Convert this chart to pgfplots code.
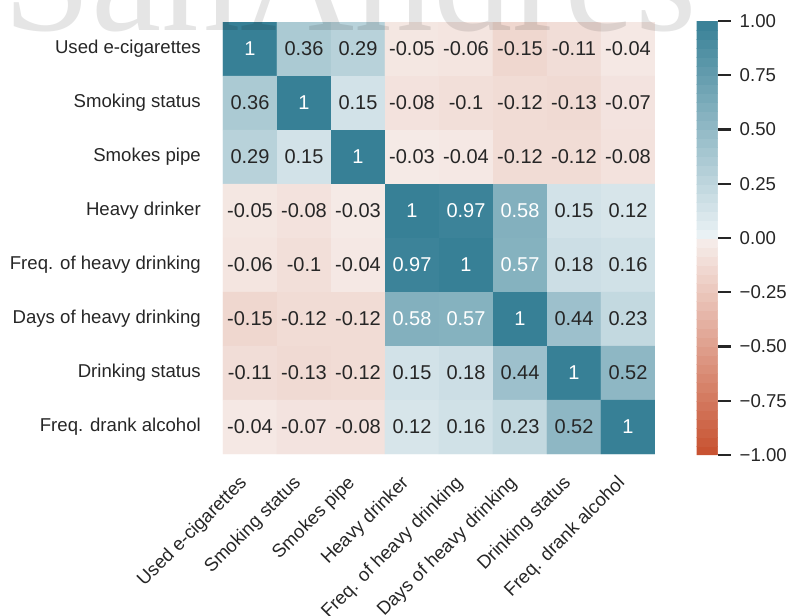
\documentclass[border=0pt]{standalone}
\usepackage{pgfplots}
\pgfplotsset{compat=1.18}
\usepackage{pgfplotstable}
\usepackage{fontspec}
\setmainfont{Liberation Sans}
\newfontfamily\wmfont{Liberation Serif}
\definecolor{txt}{HTML}{262626}

\pgfplotstableread{
x y c
0 0 1
1 0 0.36
2 0 0.29
3 0 -0.05
4 0 -0.06
5 0 -0.15
6 0 -0.11
7 0 -0.04
0 1 0.36
1 1 1
2 1 0.15
3 1 -0.08
4 1 -0.10
5 1 -0.12
6 1 -0.13
7 1 -0.07
0 2 0.29
1 2 0.15
2 2 1
3 2 -0.03
4 2 -0.04
5 2 -0.12
6 2 -0.12
7 2 -0.08
0 3 -0.05
1 3 -0.08
2 3 -0.03
3 3 1
4 3 0.97
5 3 0.58
6 3 0.15
7 3 0.12
0 4 -0.06
1 4 -0.10
2 4 -0.04
3 4 0.97
4 4 1
5 4 0.57
6 4 0.18
7 4 0.16
0 5 -0.15
1 5 -0.12
2 5 -0.12
3 5 0.58
4 5 0.57
5 5 1
6 5 0.44
7 5 0.23
0 6 -0.11
1 6 -0.13
2 6 -0.12
3 6 0.15
4 6 0.18
5 6 0.44
6 6 1
7 6 0.52
0 7 -0.04
1 7 -0.07
2 7 -0.08
3 7 0.12
4 7 0.16
5 7 0.23
6 7 0.52
7 7 1
}\corr

\pgfplotstableread{
x y label
1 0 0.36
2 0 0.29
3 0 -0.05
4 0 -0.06
5 0 -0.15
6 0 -0.11
7 0 -0.04
0 1 0.36
2 1 0.15
3 1 -0.08
4 1 -0.1
5 1 -0.12
6 1 -0.13
7 1 -0.07
0 2 0.29
1 2 0.15
3 2 -0.03
4 2 -0.04
5 2 -0.12
6 2 -0.12
7 2 -0.08
0 3 -0.05
1 3 -0.08
2 3 -0.03
6 3 0.15
7 3 0.12
0 4 -0.06
1 4 -0.1
2 4 -0.04
6 4 0.18
7 4 0.16
0 5 -0.15
1 5 -0.12
2 5 -0.12
6 5 0.44
7 5 0.23
0 6 -0.11
1 6 -0.13
2 6 -0.12
3 6 0.15
4 6 0.18
5 6 0.44
7 6 0.52
0 7 -0.04
1 7 -0.07
2 7 -0.08
3 7 0.12
4 7 0.16
5 7 0.23
6 7 0.52
}\darklab

\pgfplotstableread{
x y label
0 0 1
1 1 1
2 2 1
3 3 1
4 4 1
5 5 1
6 6 1
7 7 1
4 3 0.97
5 3 0.58
3 4 0.97
5 4 0.57
3 5 0.58
4 5 0.57
}\whitelab

\begin{document}
\begin{tikzpicture}
\useasboundingbox (0pt,0pt) rectangle (788pt,616pt);
\begin{axis}[
  at={(223pt,162pt)}, anchor=south west,
  scale only axis, width=432pt, height=432pt,
  xmin=-0.5, xmax=7.5, ymin=-0.5, ymax=7.5, y dir=reverse,
  enlargelimits=false,
  axis line style={draw=none}, major tick length=0pt,
  xtick={0,...,7}, ytick={0,...,7},
  xticklabels={Used e-cigarettes, Smoking status, Smokes pipe, Heavy drinker, Freq. of heavy drinking, Days of heavy drinking, Drinking status, Freq. drank alcohol},
  yticklabels={Used e-cigarettes, Smoking status, Smokes pipe, Heavy drinker, Freq. of heavy drinking, Days of heavy drinking, Drinking status, Freq. drank alcohol},
  tick label style={font=\fontsize{18.6}{22}\selectfont, text=txt},
  yticklabel style={anchor=east, inner sep=0pt, xshift=-22pt},
  xticklabel style={inner sep=0pt, xshift=-12pt, yshift=-20pt, rotate=45, anchor=north east},
  colormap={sns}{rgb255(0pt)=(199,80,46); rgb255(99pt)=(246,237,234); rgb255(100pt)=(242,242,242); rgb255(101pt)=(235,242,245); rgb255(200pt)=(55,128,150)},
  point meta min=-1, point meta max=1,
  colorbar sampled,
  colorbar style={
    samples=49,
    at={(parent axis.north east)}, anchor=north west, xshift=33pt,
    scale only axis, width=21pt, height=434pt, yshift=1pt,
    enlargelimits=false,
    axis line style={draw=none},
    ytick={-1,-0.75,-0.5,-0.25,0,0.25,0.5,0.75,1},
    yticklabels={−1.00,−0.75,−0.50,−0.25,0.00,0.25,0.50,0.75,1.00},
    yticklabel style={font=\fontsize{18.6}{22}\selectfont, text=txt, inner sep=0pt, xshift=9pt},
    ytick pos=right, yticklabel pos=right,
    ytick align=outside, major tick length=13pt,
    ytick style={draw=txt, line width=2.2pt},
  },
]
\addplot[matrix plot*, mesh/cols=8, point meta=explicit] table[x=x, y=y, meta=c] {\corr};
\addplot[only marks, mark=none, point meta=explicit symbolic, nodes near coords, nodes near coords align=center,
  every node near coord/.style={font=\fontsize{20}{24}\selectfont, text=txt, anchor=center}]
  table[x=x, y=y, meta=label] {\darklab};
\addplot[only marks, mark=none, point meta=explicit symbolic, nodes near coords, nodes near coords align=center,
  every node near coord/.style={font=\fontsize{20}{24}\selectfont, text=white, anchor=center}]
  table[x=x, y=y, meta=label] {\whitelab};
\end{axis}
\node[anchor=base west, inner sep=0pt, text=black, text opacity=0.1, font=\wmfont\fontsize{158}{160}\selectfont] at (3pt,585pt) {SanAndres};
\end{tikzpicture}
\end{document}
